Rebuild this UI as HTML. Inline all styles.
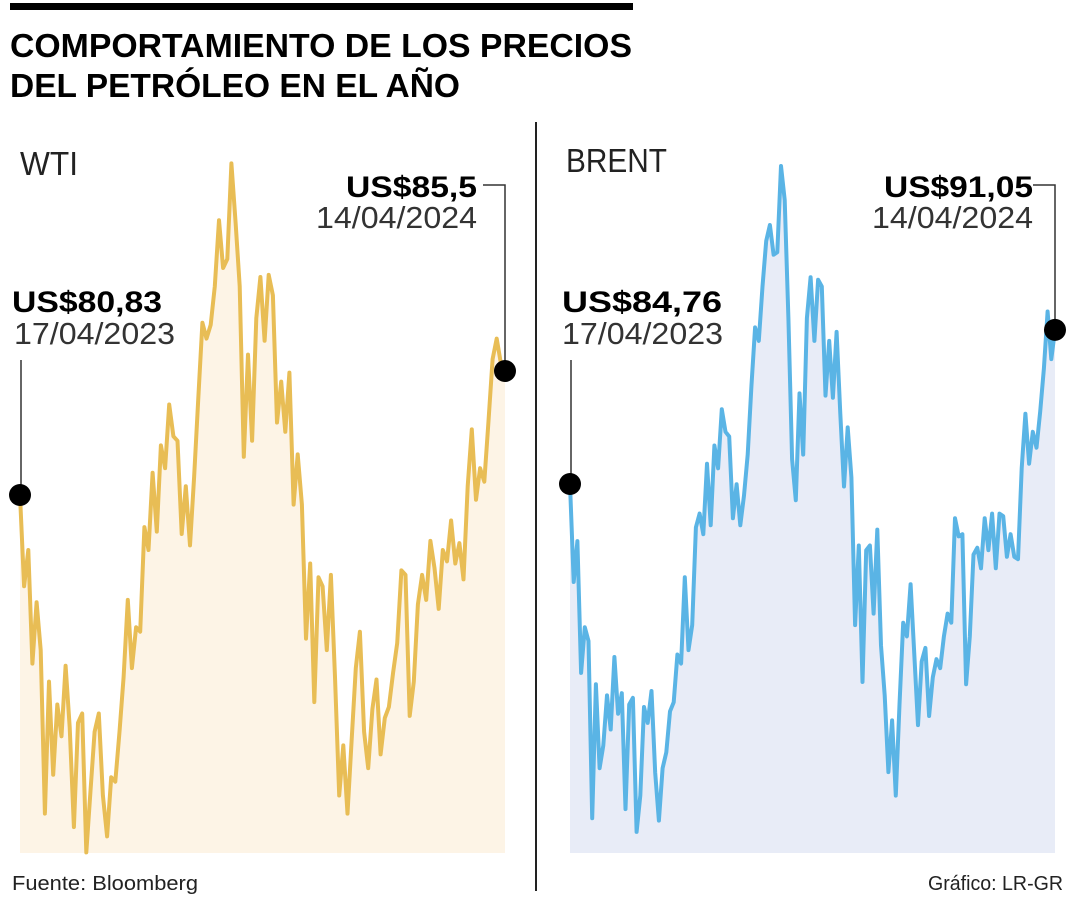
<!DOCTYPE html>
<html><head><meta charset="utf-8">
<style>
html,body{margin:0;padding:0;background:#fff;}
svg{display:block;font-family:"Liberation Sans",sans-serif;}
</style></head>
<body>
<svg id="chart" width="1080" height="900" viewBox="0 0 1080 900">
  <rect x="10" y="3" width="623" height="7" fill="#000"/>
  <text x="10" y="57" font-size="33" font-weight="bold" textLength="622" lengthAdjust="spacingAndGlyphs">COMPORTAMIENTO DE LOS PRECIOS</text>
  <text x="10" y="97" font-size="33" font-weight="bold" textLength="450" lengthAdjust="spacingAndGlyphs">DEL PETRÓLEO EN EL AÑO</text>
  <line x1="536" y1="122" x2="536" y2="891" stroke="#222" stroke-width="2"/>
  <g id="wti"></g>
  <g id="brent"></g>
  <text x="20" y="175" font-size="33" fill="#222" textLength="58" lengthAdjust="spacingAndGlyphs">WTI</text>
  <text x="566" y="172" font-size="33" fill="#222" textLength="101" lengthAdjust="spacingAndGlyphs">BRENT</text>
  <text x="12" y="312" font-size="30" font-weight="bold" textLength="150" lengthAdjust="spacingAndGlyphs">US$80,83</text>
  <text x="14" y="344" font-size="31" fill="#333" textLength="161" lengthAdjust="spacingAndGlyphs">17/04/2023</text>
  <text x="346" y="197" font-size="30" font-weight="bold" textLength="131" lengthAdjust="spacingAndGlyphs">US$85,5</text>
  <text x="316" y="228" font-size="31" fill="#333" textLength="161" lengthAdjust="spacingAndGlyphs">14/04/2024</text>
  <text x="562" y="312" font-size="30" font-weight="bold" textLength="160" lengthAdjust="spacingAndGlyphs">US$84,76</text>
  <text x="562" y="344" font-size="31" fill="#333" textLength="161" lengthAdjust="spacingAndGlyphs">17/04/2023</text>
  <text x="884" y="197" font-size="30" font-weight="bold" textLength="149" lengthAdjust="spacingAndGlyphs">US$91,05</text>
  <text x="872" y="228" font-size="31" fill="#333" textLength="161" lengthAdjust="spacingAndGlyphs">14/04/2024</text>
  <text x="12" y="890" font-size="20" fill="#222" textLength="186" lengthAdjust="spacingAndGlyphs">Fuente:  Bloomberg</text>
  <text x="928" y="890" font-size="20" fill="#222" textLength="135" lengthAdjust="spacingAndGlyphs">Gráfico: LR-GR</text>
</svg>
<script>
const wtiValues = [80.83,77.39,78.76,74.48,76.79,74.99,68.83,73.80,70.29,72.94,71.74,74.40,72.08,68.32,72.25,72.60,67.37,69.69,71.91,72.60,69.51,67.97,70.20,70.03,71.91,73.97,76.88,74.31,75.85,75.68,79.62,78.76,81.67,79.45,82.70,81.84,84.24,83.04,82.87,79.36,81.16,78.93,81.50,84.41,87.32,86.72,87.24,88.69,91.18,89.38,89.72,93.32,91.09,88.69,82.27,86.12,82.87,87.49,89.04,86.64,89.12,88.35,83.56,85.10,83.21,85.44,80.47,82.36,80.47,75.42,78.25,73.03,77.73,77.39,74.99,77.82,73.97,69.51,71.40,68.83,71.57,74.31,75.68,71.91,70.54,72.77,73.88,71.06,72.43,72.85,74.14,75.25,77.99,77.82,72.51,73.80,76.71,77.82,76.88,79.10,78.08,76.54,78.76,78.33,79.87,78.25,79.02,77.65,81.16,83.30,80.65,81.84,81.33,83.56,85.95,86.72,85.78,85.5];
const brentValues = [84.76,80.76,82.43,77.05,78.91,78.35,71.12,76.59,73.16,74.09,76.13,74.74,77.70,75.38,76.22,71.49,75.76,76.03,70.56,72.04,75.66,75.01,76.31,72.97,71.02,73.16,73.81,75.48,75.85,77.80,77.43,80.95,77.98,79.00,82.99,83.55,82.71,85.59,83.08,86.33,85.40,87.81,86.89,86.70,83.36,84.75,83.08,84.29,85.96,88.74,91.15,90.60,92.82,94.68,95.33,94.12,94.22,97.74,96.35,91.53,85.77,84.10,88.46,85.96,91.53,93.20,90.60,93.10,92.82,88.37,90.60,88.28,90.97,87.63,84.66,87.07,85.03,79.00,82.25,76.68,82.06,82.25,79.47,82.90,78.17,76.13,73.00,75.11,72.04,75.76,79.10,78.54,80.67,77.80,74.92,77.52,78.07,75.29,76.87,77.61,77.24,78.54,79.47,79.10,83.36,82.62,82.71,76.59,78.54,81.88,82.16,81.32,83.36,82.06,83.55,81.32,83.55,83.45,81.79,82.71,81.79,81.69,85.40,87.63,85.59,86.89,86.24,87.72,89.48,91.80,89.86,91.05];

const NS = 'http://www.w3.org/2000/svg';
function drawPanel(gid, vals, x0, x1, refV, refY, pxPer, fill, stroke, name) {
  const g = document.getElementById(gid);
  const xs = i => x0 + (x1 - x0) * i / (vals.length - 1);
  const ys = v => refY - (v - refV) * pxPer;
  const base = 853;
  let pts = vals.map((v, i) => xs(i).toFixed(1) + ',' + ys(v).toFixed(1));
  const area = document.createElementNS(NS, 'polygon');
  area.setAttribute('points', x0 + ',' + base + ' ' + pts.join(' ') + ' ' + x1 + ',' + base);
  area.setAttribute('fill', fill);
  
  
  g.appendChild(area);
  const line = document.createElementNS(NS, 'polyline');
  line.setAttribute('points', pts.join(' '));
  line.setAttribute('fill', 'none');
  line.setAttribute('stroke', stroke);
  line.setAttribute('stroke-width', '4');
  line.setAttribute('stroke-linejoin', 'round');
  
  
  g.appendChild(line);
  const sy = ys(vals[0]), ey = ys(vals[vals.length - 1]);
  const l1 = document.createElementNS(NS, 'line');
  l1.setAttribute('x1', x0 + 1); l1.setAttribute('x2', x0 + 1);
  l1.setAttribute('y1', 360); l1.setAttribute('y2', sy);
  l1.setAttribute('stroke', '#333'); l1.setAttribute('stroke-width', '1.5');
  
  
  g.appendChild(l1);
  const l2 = document.createElementNS(NS, 'polyline');
  l2.setAttribute('points', (x1 - 22) + ',185 ' + x1 + ',185 ' + x1 + ',' + ey);
  l2.setAttribute('fill', 'none'); l2.setAttribute('stroke', '#333'); l2.setAttribute('stroke-width', '1.5');
  
  
  g.appendChild(l2);
  [[x0, sy, 'start'], [x1, ey, 'end']].forEach(p => {
    const c = document.createElementNS(NS, 'circle');
    c.setAttribute('cx', p[0]); c.setAttribute('cy', p[1]); c.setAttribute('r', 11);
    c.setAttribute('fill', '#000');
    
    
    g.appendChild(c);
  });
}
drawPanel('wti', wtiValues, 20, 505, 80.83, 495, 26.55, '#fdf4e6', '#e8bd55', 'wti');
drawPanel('brent', brentValues, 570, 1055, 84.76, 484, 24.5, '#e8ecf7', '#5ab4e5', 'brent');
</script>
</body></html>
